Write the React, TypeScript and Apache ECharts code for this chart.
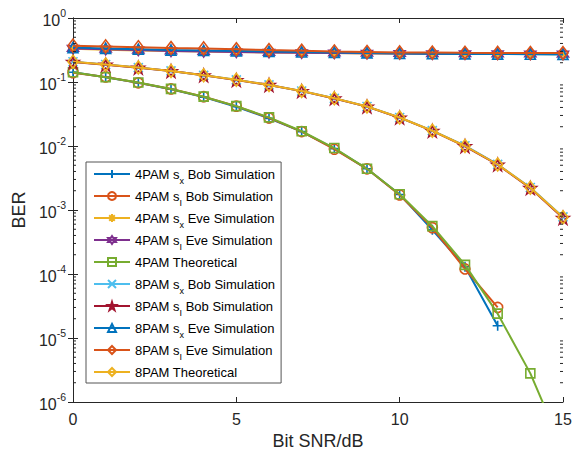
import React, { useEffect, useRef } from "react";
import * as echarts from "echarts";

const snr = [0, 1, 2, 3, 4, 5, 6, 7, 8, 9, 10, 11, 12, 13, 14, 15];

const pam4SxBob = [0.142, 0.119, 0.097, 0.077, 0.058, 0.041, 0.027, 0.0168, 0.0091, 0.0044, 0.00175, 0.00049, 0.00013, 0.0000155];
const pam4SiBob = [0.14, 0.12, 0.097, 0.078, 0.059, 0.042, 0.0275, 0.0168, 0.0089, 0.0044, 0.00172, 0.00053, 0.00012, 0.00003];
const pam4SxEve = [0.33, 0.32, 0.31, 0.305, 0.3, 0.295, 0.29, 0.286, 0.283, 0.28, 0.278, 0.276, 0.275, 0.274, 0.273, 0.272];
const pam4SiEve = [0.335, 0.325, 0.315, 0.305, 0.3, 0.295, 0.29, 0.287, 0.284, 0.281, 0.279, 0.277, 0.276, 0.275, 0.274, 0.273];
const pam4Theory = [0.142, 0.119, 0.098, 0.078, 0.059, 0.042, 0.028, 0.017, 0.0093, 0.0044, 0.00176, 0.00056, 0.000139, 0.000024, 0.0000028, 0.00000018];
const pam8SxBob = [0.207, 0.188, 0.168, 0.149, 0.127, 0.108, 0.09, 0.0723, 0.0556, 0.0414, 0.0279, 0.0174, 0.0101, 0.00516, 0.00225, 0.00078];
const pam8SiBob = [0.205, 0.186, 0.167, 0.148, 0.127, 0.107, 0.0895, 0.072, 0.0553, 0.0412, 0.0277, 0.0172, 0.0099, 0.0051, 0.0022, 0.00075];
const pam8SxEve = [0.345, 0.335, 0.325, 0.315, 0.31, 0.305, 0.3, 0.295, 0.29, 0.285, 0.28, 0.277, 0.275, 0.273, 0.272, 0.27];
const pam8SiEve = [0.37, 0.36, 0.35, 0.34, 0.335, 0.325, 0.315, 0.308, 0.3, 0.295, 0.29, 0.288, 0.286, 0.285, 0.284, 0.283];
const pam8Theory = [0.2075, 0.1876, 0.1685, 0.1486, 0.1273, 0.1082, 0.0898, 0.0723, 0.0556, 0.0414, 0.0279, 0.0173, 0.01, 0.00514, 0.00223, 0.00077];

const seriesNames = [
  "4PAM s_x Bob Simulation",
  "4PAM s_I Bob Simulation",
  "4PAM s_x Eve Simulation",
  "4PAM s_I Eve Simulation",
  "4PAM Theoretical",
  "8PAM s_x Bob Simulation",
  "8PAM s_I Bob Simulation",
  "8PAM s_x Eve Simulation",
  "8PAM s_I Eve Simulation",
  "8PAM Theoretical",
];
const seriesData = [pam4SxBob, pam4SiBob, pam4SxEve, pam4SiEve, pam4Theory, pam8SxBob, pam8SiBob, pam8SxEve, pam8SiEve, pam8Theory];
const seriesColors = ["#0072BD", "#D95319", "#EDB120", "#7E2F8E", "#77AC30", "#4DBEEE", "#A2142F", "#0072BD", "#D95319", "#EDB120"];

const PLUS = "path://M5,0L5,10M0,5L10,5";
const CROSS = "path://M0,0L10,10M10,0L0,10";
const ASTER = "path://M5,0L5,10M0,5L10,5M1.5,1.5L8.5,8.5M8.5,1.5L1.5,8.5";
const PENTA = "path://M50,0L61.2,34.5L97.6,34.5L68.2,55.9L79.4,90.5L50,69.1L20.6,90.5L31.8,55.9L2.4,34.5L38.8,34.5Z";
const HEXA = "path://M50,0L64.4,25L93.3,25L78.9,50L93.3,75L64.4,75L50,100L35.6,75L6.7,75L21.1,50L6.7,25L35.6,25Z";
const seriesSymbols = [PLUS, "circle", ASTER, HEXA, "rect", CROSS, PENTA, "triangle", "diamond", "diamond"];
const seriesSymbolSizes: any[] = [10, 10, 10, 11, 9, 9, 12, 10, [10, 13], [10, 13]];

const yMinorTicks = [-6, -5, -4, -3, -2, -1].flatMap((e) => [2, 3, 4, 5, 6, 7, 8, 9].map((k) => k * Math.pow(10, e)));

const FONT = "Liberation Sans, Arial, Helvetica, sans-serif";
const AXIS = "#262626";

export default function App() {
  const ref = useRef<HTMLDivElement>(null);
  useEffect(() => {
    if (!ref.current) return;
    const chart = echarts.init(ref.current, undefined, { renderer: "svg" });

    const lineSeries = seriesNames.map((name, i) => ({
      name,
      type: "line",
      data: seriesData[i].map((v, j) => [snr[j], v]),
      symbol: seriesSymbols[i],
      symbolSize: seriesSymbolSizes[i],
      showSymbol: true,
      showAllSymbol: true,
      clip: true,
      silent: true,
      lineStyle: { color: seriesColors[i], width: 2 },
      itemStyle: { color: "rgba(255,255,255,0)", borderColor: seriesColors[i], borderWidth: 1.6 },
      emphasis: { disabled: true },
      z: 2 + i * 0.01,
      xAxisIndex: 0,
      yAxisIndex: 0,
    }));

    const minorSeries = {
      type: "custom",
      silent: true,
      xAxisIndex: 0,
      yAxisIndex: 0,
      clip: false,
      z: 5,
      encode: { x: 0, y: 1 },
      data: yMinorTicks.map((v) => [0, v]),
      renderItem: (params: any, api: any) => {
        const v = api.value(1);
        const a = api.coord([0, v]);
        const b = api.coord([15, v]);
        return {
          type: "group",
          children: [
            { type: "line", shape: { x1: a[0], y1: a[1], x2: a[0] + 3, y2: a[1] }, style: { stroke: AXIS, lineWidth: 1 } },
            { type: "line", shape: { x1: b[0], y1: b[1], x2: b[0] - 3, y2: b[1] }, style: { stroke: AXIS, lineWidth: 1 } },
          ],
        };
      },
    };

    const baseX = {
      type: "value",
      min: 0,
      max: 15,
      interval: 5,
      splitLine: { show: false },
      axisLine: { show: true, lineStyle: { color: AXIS, width: 1 } },
      axisTick: { show: true, inside: true, length: 5, lineStyle: { color: AXIS } },
    };
    const baseY = {
      type: "log",
      logBase: 10,
      min: 1e-6,
      max: 1,
      splitNumber: 6,
      splitLine: { show: false },
      minorTick: { show: false },
      axisLine: { show: true, lineStyle: { color: AXIS, width: 1 } },
      axisTick: { show: true, inside: true, length: 5, lineStyle: { color: AXIS } },
    };

    chart.setOption({
      animation: false,
      backgroundColor: "#ffffff",
      grid: { left: 73, right: 21, top: 18, bottom: 50, containLabel: false, outerBoundsMode: "none" },
      xAxis: [
        {
          ...baseX,
          position: "bottom",
          axisLabel: { fontSize: 16, color: AXIS, fontFamily: FONT, margin: 9 },
          name: "Bit SNR/dB",
          nameLocation: "middle",
          nameGap: 27,
          nameTextStyle: { fontSize: 18, color: AXIS, fontFamily: FONT },
        },
        { ...baseX, position: "top", axisLabel: { show: false } },
      ],
      yAxis: [
        {
          ...baseY,
          position: "left",
          axisLabel: {
            margin: 7,
            fontSize: 16,
            lineHeight: 26,
            padding: [5, 0, 0, 0],
            color: AXIS,
            fontFamily: FONT,
            formatter: (v: number) => "10{s|" + Math.round(Math.log10(v)) + "}",
            rich: {
              s: { fontSize: 10.5, color: AXIS, fontFamily: FONT, lineHeight: 10, verticalAlign: "top" },
            },
          },
          name: "BER",
          nameLocation: "middle",
          nameGap: 44,
          nameTextStyle: { fontSize: 18, color: AXIS, fontFamily: FONT },
        },
        { ...baseY, position: "right", axisLabel: { show: false } },
      ],
      legend: {
        data: seriesNames,
        orient: "vertical",
        left: 86,
        top: 162,
        itemGap: 0,
        itemWidth: 36,
        itemHeight: 10,
        padding: [1, 6, 0, 7],
        backgroundColor: "#ffffff",
        borderColor: "#555555",
        borderWidth: 1,
        borderRadius: 0,
        selectedMode: false,
        formatter: (name: string) => name.replace(/_(\w)/, "{sub|$1}"),
        textStyle: {
          fontSize: 13,
          color: "#000000",
          fontFamily: FONT,
          lineHeight: 22,
          rich: {
            sub: { fontSize: 9, color: "#000000", fontFamily: FONT, lineHeight: 10, verticalAlign: "bottom" },
          },
        },
      },
      series: [...lineSeries, minorSeries],
    });
    return () => chart.dispose();
  }, []);
  return <div ref={ref} style={{ position: "fixed", left: 0, top: 0, width: 584, height: 452 }} />;
}
